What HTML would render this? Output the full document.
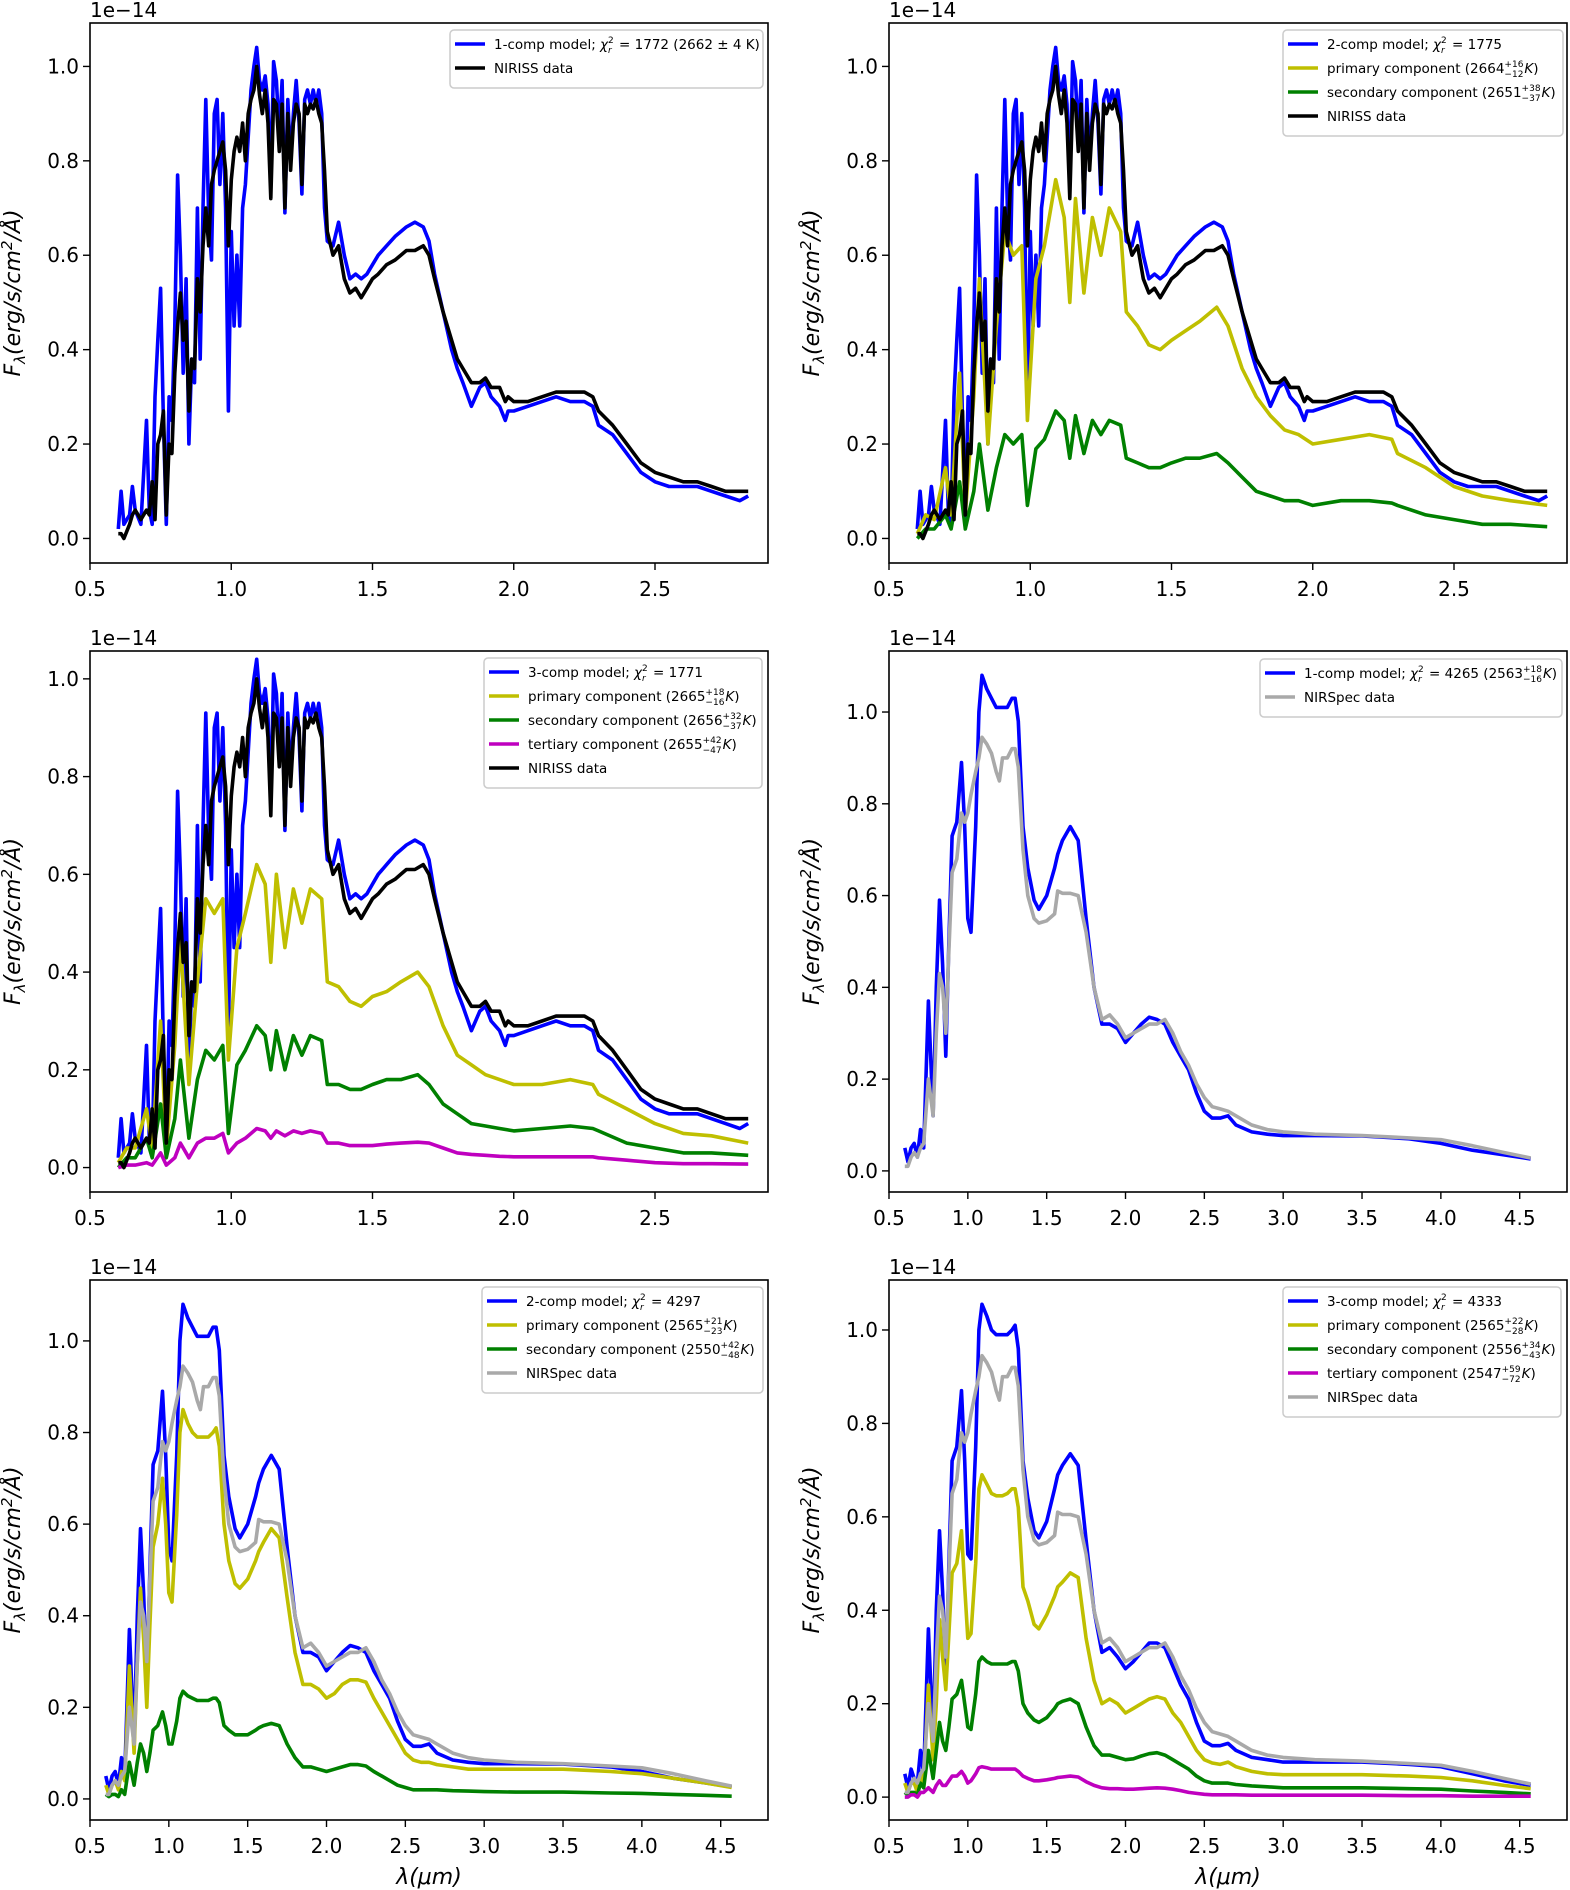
<!DOCTYPE html>
<html><head><meta charset="utf-8"><title>Spectral fits</title>
<style>
html,body{margin:0;padding:0;background:#fff;}
svg{display:block;font-family:"DejaVu Sans","Liberation Sans",sans-serif;}
</style></head>
<body>
<svg id="fig" width="1570" height="1890" viewBox="0 0 1570 1890" xmlns="http://www.w3.org/2000/svg"></svg>
<script>
// ---------- NIRISS wavelength grid ----------
const lamI = [0.60,0.61,0.62,0.64,0.65,0.66,0.68,0.70,0.71,0.72,0.73,0.74,0.75,0.76,0.77,0.78,0.79,
0.80,0.81,0.82,0.83,0.84,0.85,0.86,0.87,0.88,0.89,0.90,0.91,0.92,0.93,0.94,0.95,0.96,0.97,0.98,0.99,
1.00,1.01,1.02,1.03,1.04,1.05,1.06,1.07,1.08,1.09,1.10,1.11,1.12,1.13,1.14,1.15,1.16,1.17,1.18,1.19,
1.20,1.21,1.22,1.23,1.24,1.25,1.26,1.27,1.28,1.29,1.30,1.31,1.32,1.33,1.34,
1.36,1.38,1.40,1.42,1.44,1.46,1.48,1.50,1.52,1.55,1.58,1.60,1.62,1.65,1.68,1.70,1.72,1.75,1.78,1.80,
1.82,1.85,1.88,1.90,1.92,1.95,1.97,1.98,2.00,2.05,2.10,2.15,2.20,2.25,2.28,2.30,2.35,2.40,2.45,2.50,
2.55,2.60,2.65,2.70,2.75,2.80,2.83];
const nirissData = [0.01,0.01,0.00,0.03,0.05,0.06,0.04,0.06,0.05,0.12,0.04,0.20,0.22,0.27,0.05,0.20,0.18,
0.35,0.45,0.52,0.42,0.46,0.27,0.38,0.36,0.55,0.48,0.62,0.70,0.62,0.75,0.78,0.80,0.82,0.84,0.78,0.62,
0.76,0.82,0.85,0.82,0.88,0.80,0.90,0.93,0.95,1.00,0.94,0.90,0.95,0.88,0.72,0.93,0.92,0.82,0.92,0.70,
0.90,0.78,0.88,0.92,0.90,0.75,0.92,0.90,0.92,0.91,0.93,0.90,0.88,0.78,0.65,
0.60,0.62,0.55,0.52,0.53,0.51,0.53,0.55,0.56,0.58,0.59,0.60,0.61,0.61,0.62,0.60,0.55,0.48,0.42,0.38,
0.36,0.33,0.33,0.34,0.32,0.32,0.29,0.30,0.29,0.29,0.30,0.31,0.31,0.31,0.30,0.27,0.24,0.20,0.16,0.14,
0.13,0.12,0.12,0.11,0.10,0.10,0.10];
const nirissModel = [0.02,0.10,0.03,0.05,0.11,0.06,0.03,0.25,0.06,0.03,0.30,0.42,0.53,0.25,0.03,0.30,0.25,
0.45,0.77,0.60,0.35,0.55,0.20,0.38,0.33,0.70,0.38,0.70,0.93,0.68,0.59,0.90,0.93,0.75,0.90,0.70,0.27,
0.65,0.45,0.60,0.45,0.70,0.75,0.85,0.95,1.00,1.04,0.97,0.95,0.98,0.92,0.75,1.01,0.97,0.85,0.97,0.69,
0.93,0.80,0.90,0.97,0.88,0.73,0.93,0.95,0.92,0.95,0.92,0.95,0.90,0.70,0.63,
0.62,0.67,0.60,0.55,0.56,0.55,0.56,0.58,0.60,0.62,0.64,0.65,0.66,0.67,0.66,0.63,0.56,0.48,0.40,0.36,
0.33,0.28,0.32,0.33,0.30,0.28,0.25,0.27,0.27,0.28,0.29,0.30,0.29,0.29,0.28,0.24,0.22,0.18,0.14,0.12,
0.11,0.11,0.11,0.10,0.09,0.08,0.09];
// ---------- NIRISS component grid ----------
const lamC = [0.60,0.63,0.66,0.70,0.72,0.75,0.77,0.80,0.82,0.85,0.88,0.91,0.94,0.97,0.99,1.02,1.05,1.09,1.12,1.14,
1.16,1.19,1.22,1.25,1.28,1.32,1.34,1.38,1.42,1.46,1.50,1.55,1.60,1.66,1.70,1.75,1.80,1.85,1.90,1.95,
2.00,2.10,2.20,2.28,2.30,2.40,2.50,2.60,2.70,2.83];
const p2Primary = [0.01,0.05,0.04,0.15,0.05,0.35,0.05,0.30,0.55,0.20,0.45,0.65,0.60,0.62,0.25,0.55,0.62,0.76,0.68,0.50,
0.72,0.52,0.68,0.60,0.70,0.65,0.48,0.45,0.41,0.40,0.42,0.44,0.46,0.49,0.45,0.36,0.30,0.26,0.23,0.22,
0.20,0.21,0.22,0.21,0.18,0.15,0.11,0.09,0.08,0.07];
const p2Secondary = [0.00,0.02,0.02,0.05,0.02,0.12,0.02,0.10,0.20,0.06,0.15,0.22,0.20,0.22,0.07,0.19,0.21,0.27,0.25,0.17,
0.26,0.18,0.25,0.22,0.25,0.24,0.17,0.16,0.15,0.15,0.16,0.17,0.17,0.18,0.16,0.13,0.10,0.09,0.08,0.08,
0.07,0.08,0.08,0.075,0.07,0.05,0.04,0.03,0.03,0.025];
const p3Primary = [0.01,0.04,0.04,0.12,0.04,0.30,0.04,0.25,0.47,0.17,0.38,0.55,0.52,0.55,0.22,0.45,0.52,0.62,0.58,0.42,
0.60,0.45,0.57,0.50,0.57,0.55,0.38,0.37,0.34,0.33,0.35,0.36,0.38,0.40,0.37,0.29,0.23,0.21,0.19,0.18,
0.17,0.17,0.18,0.17,0.15,0.12,0.09,0.07,0.065,0.05];
const p3Secondary = [0.00,0.02,0.02,0.06,0.02,0.13,0.02,0.10,0.22,0.06,0.18,0.24,0.22,0.25,0.07,0.21,0.24,0.29,0.27,0.20,
0.28,0.20,0.27,0.23,0.27,0.26,0.17,0.17,0.16,0.16,0.17,0.18,0.18,0.19,0.17,0.13,0.11,0.09,0.085,0.08,
0.075,0.08,0.085,0.08,0.075,0.05,0.04,0.03,0.03,0.025];
const p3Tertiary = [0.00,0.005,0.005,0.01,0.005,0.03,0.005,0.02,0.05,0.02,0.05,0.06,0.06,0.07,0.03,0.05,0.06,0.08,0.075,0.06,
0.075,0.065,0.075,0.07,0.075,0.07,0.05,0.05,0.045,0.045,0.045,0.048,0.05,0.052,0.05,0.04,0.03,0.027,0.025,0.023,
0.022,0.022,0.022,0.022,0.02,0.015,0.01,0.008,0.008,0.007];
// ---------- NIRSpec grid ----------
const lamS = [0.60,0.62,0.64,0.66,0.68,0.70,0.72,0.75,0.78,0.80,0.82,0.84,0.86,0.88,0.90,0.93,0.96,0.98,1.00,1.02,
1.05,1.07,1.09,1.12,1.15,1.18,1.20,1.22,1.25,1.28,1.30,1.32,1.35,1.38,1.42,1.45,1.50,1.55,1.57,1.60,
1.65,1.70,1.75,1.80,1.85,1.90,1.95,2.00,2.05,2.10,2.15,2.20,2.25,2.30,2.35,2.40,2.45,2.50,2.55,2.60,
2.65,2.70,2.80,2.90,3.00,3.20,3.50,3.80,4.00,4.20,4.40,4.57];
const nirspecData = [0.01,0.01,0.03,0.04,0.03,0.05,0.06,0.20,0.12,0.30,0.43,0.40,0.30,0.48,0.65,0.68,0.78,0.76,0.78,0.82,
0.87,0.90,0.945,0.93,0.91,0.87,0.85,0.90,0.90,0.92,0.92,0.88,0.70,0.60,0.55,0.54,0.545,0.56,0.61,0.605,
0.605,0.60,0.52,0.40,0.33,0.34,0.32,0.29,0.30,0.31,0.32,0.32,0.33,0.30,0.26,0.23,0.19,0.16,0.14,0.135,
0.13,0.12,0.10,0.09,0.085,0.08,0.077,0.072,0.068,0.055,0.04,0.028];
const nirspecModel = [0.05,0.02,0.05,0.06,0.03,0.09,0.05,0.37,0.12,0.40,0.59,0.45,0.25,0.50,0.73,0.76,0.89,0.75,0.55,0.52,
0.75,1.00,1.08,1.05,1.03,1.01,1.01,1.01,1.01,1.03,1.03,0.98,0.75,0.66,0.59,0.57,0.60,0.66,0.69,0.72,
0.75,0.72,0.55,0.40,0.32,0.32,0.31,0.28,0.30,0.32,0.335,0.33,0.32,0.28,0.25,0.22,0.17,0.13,0.115,0.115,
0.12,0.10,0.085,0.08,0.077,0.077,0.076,0.070,0.060,0.045,0.035,0.026];
const p5Primary = [0.03,0.01,0.03,0.04,0.02,0.06,0.04,0.29,0.10,0.30,0.46,0.35,0.20,0.38,0.55,0.60,0.70,0.60,0.45,0.43,
0.62,0.80,0.85,0.82,0.80,0.79,0.79,0.79,0.79,0.80,0.81,0.77,0.60,0.52,0.47,0.46,0.48,0.52,0.54,0.56,
0.59,0.57,0.44,0.32,0.25,0.25,0.24,0.22,0.23,0.25,0.26,0.26,0.255,0.22,0.19,0.16,0.13,0.10,0.085,0.08,
0.08,0.075,0.07,0.065,0.065,0.065,0.065,0.060,0.055,0.045,0.035,0.025];
const p5Secondary = [0.01,0.005,0.01,0.01,0.005,0.02,0.01,0.08,0.03,0.08,0.12,0.10,0.06,0.10,0.15,0.16,0.19,0.16,0.12,0.12,
0.17,0.22,0.235,0.225,0.22,0.215,0.215,0.215,0.215,0.22,0.22,0.21,0.16,0.15,0.14,0.14,0.14,0.15,0.155,0.16,
0.165,0.16,0.12,0.09,0.07,0.07,0.065,0.06,0.065,0.07,0.075,0.075,0.072,0.06,0.05,0.04,0.03,0.025,0.02,0.02,
0.02,0.02,0.018,0.017,0.016,0.015,0.015,0.013,0.012,0.01,0.008,0.006];
const p6Model = [0.05,0.02,0.06,0.04,0.03,0.10,0.05,0.36,0.12,0.40,0.57,0.44,0.25,0.50,0.72,0.75,0.87,0.72,0.52,0.51,
0.75,1.00,1.055,1.03,1.00,0.99,0.99,0.99,0.99,1.00,1.01,0.96,0.72,0.64,0.57,0.555,0.59,0.66,0.69,0.71,
0.735,0.71,0.55,0.40,0.31,0.32,0.30,0.275,0.29,0.31,0.33,0.33,0.32,0.28,0.24,0.21,0.16,0.12,0.11,0.11,
0.115,0.10,0.085,0.08,0.075,0.075,0.075,0.07,0.065,0.05,0.035,0.025];
const p6Primary = [0.03,0.01,0.03,0.03,0.01,0.05,0.03,0.24,0.08,0.20,0.38,0.30,0.23,0.35,0.48,0.50,0.57,0.45,0.34,0.35,
0.50,0.66,0.69,0.67,0.65,0.645,0.645,0.645,0.65,0.66,0.66,0.62,0.45,0.42,0.37,0.36,0.39,0.43,0.45,0.46,
0.48,0.47,0.34,0.25,0.20,0.21,0.20,0.18,0.19,0.20,0.21,0.215,0.21,0.18,0.16,0.13,0.10,0.08,0.073,0.07,
0.075,0.065,0.055,0.05,0.048,0.048,0.048,0.045,0.042,0.035,0.025,0.018];
const p6Secondary = [0.01,0.005,0.01,0.01,0.005,0.03,0.02,0.10,0.04,0.10,0.16,0.12,0.10,0.15,0.21,0.22,0.25,0.20,0.15,0.145,
0.22,0.29,0.30,0.29,0.285,0.285,0.285,0.285,0.285,0.29,0.29,0.27,0.20,0.18,0.165,0.16,0.17,0.19,0.20,0.205,
0.21,0.20,0.15,0.11,0.09,0.09,0.085,0.08,0.082,0.088,0.093,0.095,0.09,0.08,0.07,0.06,0.045,0.035,0.03,0.03,
0.03,0.027,0.024,0.022,0.02,0.02,0.02,0.018,0.017,0.013,0.01,0.007];
const p6Tertiary = [0.00,0.00,0.005,0.005,0.00,0.01,0.01,0.02,0.01,0.025,0.035,0.025,0.025,0.035,0.045,0.045,0.055,0.045,0.03,0.035,
0.05,0.063,0.065,0.063,0.06,0.06,0.06,0.06,0.06,0.06,0.06,0.055,0.045,0.04,0.035,0.035,0.037,0.04,0.042,0.043,
0.045,0.043,0.033,0.025,0.02,0.018,0.018,0.017,0.017,0.018,0.019,0.02,0.019,0.017,0.014,0.01,0.008,0.006,0.005,0.005,
0.005,0.005,0.004,0.004,0.004,0.004,0.004,0.003,0.003,0.002,0.002,0.002];
// ---------- ticks ----------
const yTicks = [0.0,0.2,0.4,0.6,0.8,1.0];
const yTickLabels = ["0.0","0.2","0.4","0.6","0.8","1.0"];
const xTicksShort = [0.5,1.0,1.5,2.0,2.5];
const xTicksLong = [0.5,1.0,1.5,2.0,2.5,3.0,3.5,4.0,4.5];

const C = {blue:"#0000ff", black:"#000000", yel:"#bfbf00", grn:"#008000", mag:"#bf00bf", gry:"#a9a9a9"};
const NS = "http://www.w3.org/2000/svg";
const svg = document.getElementById("fig");
function mk(tag, attrs, parent){ const e=document.createElementNS(NS,tag); for(const k in attrs) e.setAttribute(k,attrs[k]); (parent||svg).appendChild(e); return e; }
const S = "\u00a0";

const panels = [
 {id:"p1", x:90, y:23, h:540, xl:[0.5,2.9], yl:[-0.052,1.092], xt:xTicksShort, xlabel:false,
  series:[[lamI,nirissModel,C.blue,"model-1comp"],[lamI,nirissData,C.black,"niriss-data"]],
  leg:{x:450,y:30,w:313, items:[[C.blue,[["1-comp model;"+S],["χ",'i'],["chi"],[S+"="+S+"1772 (2662 ± 4 K)"]]],[C.black,[["NIRISS data"]]]]}},
 {id:"p2", x:889, y:23, h:540, xl:[0.5,2.9], yl:[-0.052,1.092], xt:xTicksShort, xlabel:false,
  series:[[lamI,nirissModel,C.blue,"model-2comp"],[lamC,p2Primary,C.yel,"primary-component"],[lamC,p2Secondary,C.grn,"secondary-component"],[lamI,nirissData,C.black,"niriss-data"]],
  leg:{x:1283,y:30,w:280, items:[[C.blue,[["2-comp model;"+S],["χ",'i'],["chi"],[S+"="+S+"1775"]]],[C.yel,[["primary component (2664"],["+16","−12","pm"],["K",'i'],[")"]]],[C.grn,[["secondary component (2651"],["+38","−37","pm"],["K",'i'],[")"]]],[C.black,[["NIRISS data"]]]]}},
 {id:"p3", x:90, y:651, h:541, xl:[0.5,2.9], yl:[-0.05,1.057], xt:xTicksShort, xlabel:false,
  series:[[lamI,nirissModel,C.blue,"model-3comp"],[lamC,p3Primary,C.yel,"primary-component"],[lamC,p3Secondary,C.grn,"secondary-component"],[lamC,p3Tertiary,C.mag,"tertiary-component"],[lamI,nirissData,C.black,"niriss-data"]],
  leg:{x:484,y:658,w:278, items:[[C.blue,[["3-comp model;"+S],["χ",'i'],["chi"],[S+"="+S+"1771"]]],[C.yel,[["primary component (2665"],["+18","−16","pm"],["K",'i'],[")"]]],[C.grn,[["secondary component (2656"],["+32","−37","pm"],["K",'i'],[")"]]],[C.mag,[["tertiary component (2655"],["+42","−47","pm"],["K",'i'],[")"]]],[C.black,[["NIRISS data"]]]]}},
 {id:"p4", x:889, y:651, h:541, xl:[0.5,4.8], yl:[-0.046,1.133], xt:xTicksLong, xlabel:false,
  series:[[lamS,nirspecModel,C.blue,"model-1comp"],[lamS,nirspecData,C.gry,"nirspec-data"]],
  leg:{x:1260,y:659,w:302, items:[[C.blue,[["1-comp model;"+S],["χ",'i'],["chi"],[S+"="+S+"4265 (2563"],["+18","−16","pm"],["K",'i'],[")"]]],[C.gry,[["NIRSpec data"]]]]}},
 {id:"p5", x:90, y:1280, h:540, xl:[0.5,4.8], yl:[-0.046,1.133], xt:xTicksLong, xlabel:true,
  series:[[lamS,nirspecModel,C.blue,"model-2comp"],[lamS,p5Primary,C.yel,"primary-component"],[lamS,p5Secondary,C.grn,"secondary-component"],[lamS,nirspecData,C.gry,"nirspec-data"]],
  leg:{x:482,y:1287,w:281, items:[[C.blue,[["2-comp model;"+S],["χ",'i'],["chi"],[S+"="+S+"4297"]]],[C.yel,[["primary component (2565"],["+21","−23","pm"],["K",'i'],[")"]]],[C.grn,[["secondary component (2550"],["+42","−48","pm"],["K",'i'],[")"]]],[C.gry,[["NIRSpec data"]]]]}},
 {id:"p6", x:889, y:1280, h:540, xl:[0.5,4.8], yl:[-0.049,1.107], xt:xTicksLong, xlabel:true,
  series:[[lamS,p6Model,C.blue,"model-3comp"],[lamS,p6Primary,C.yel,"primary-component"],[lamS,p6Secondary,C.grn,"secondary-component"],[lamS,p6Tertiary,C.mag,"tertiary-component"],[lamS,nirspecData,C.gry,"nirspec-data"]],
  leg:{x:1283,y:1287,w:278, items:[[C.blue,[["3-comp model;"+S],["χ",'i'],["chi"],[S+"="+S+"4333"]]],[C.yel,[["primary component (2565"],["+22","−28","pm"],["K",'i'],[")"]]],[C.grn,[["secondary component (2556"],["+34","−43","pm"],["K",'i'],[")"]]],[C.mag,[["tertiary component (2547"],["+59","−72","pm"],["K",'i'],[")"]]],[C.gry,[["NIRSpec data"]]]]}}
];
const W = 678;

panels.forEach(p=>{
  const g = mk("g",{});
  
  
  const sx = v => p.x + (v-p.xl[0])/(p.xl[1]-p.xl[0])*W;
  const sy = v => p.y + p.h - (v-p.yl[0])/(p.yl[1]-p.yl[0])*p.h;
  const clipId = "clip-"+p.id;
  const cp = mk("clipPath",{id:clipId},g); mk("rect",{x:p.x,y:p.y,width:W,height:p.h},cp);
  const sg = mk("g",{"clip-path":"url(#"+clipId+")"},g);
  p.series.forEach(s=>{
    const xs=s[0], ys=s[1], n=Math.min(xs.length,ys.length);
    let d="";
    for(let i=0;i<n;i++) d += (i?"L":"M")+sx(xs[i]).toFixed(1)+","+sy(ys[i]).toFixed(1);
    const path = mk("path",{d:d,fill:"none",stroke:s[2],"stroke-width":3.6,"stroke-linejoin":"round"},sg);
    
    
  });
  const fr = mk("rect",{x:p.x,y:p.y,width:W,height:p.h,fill:"none",stroke:"#000","stroke-width":1.6},g);
  
  
  yTicks.forEach((t,i)=>{
    const y=sy(t);
    mk("line",{x1:p.x-7,x2:p.x,y1:y,y2:y,stroke:"#000","stroke-width":1.4},g);
    const tx = mk("text",{x:p.x-11,y:y+7,"text-anchor":"end","font-size":20},g);
    tx.textContent = yTickLabels[i];
    
    
  });
  p.xt.forEach(t=>{
    const x=sx(t);
    mk("line",{x1:x,x2:x,y1:p.y+p.h,y2:p.y+p.h+7,stroke:"#000","stroke-width":1.4},g);
    const tx = mk("text",{x:x,y:p.y+p.h+33,"text-anchor":"middle","font-size":20},g);
    tx.textContent = t.toFixed(1);
    
    
  });
  const off = mk("text",{x:p.x,y:p.y-6,"font-size":20},g);
  off.textContent = "1e\u221214";
  
  
  const cy = p.y+p.h/2, cx = p.x-70;
  const yl = mk("text",{x:cx,y:cy,"text-anchor":"middle","font-size":22,"font-style":"italic",transform:"rotate(-90 "+cx+" "+cy+")"},g);
  yl.innerHTML = 'F<tspan font-size="15" dy="5">λ</tspan><tspan dy="-5">(erg/s/cm</tspan><tspan font-size="15" dy="-8">2</tspan><tspan dy="8">/Å)</tspan>';
  
  
  if(p.xlabel){
    const xlb = mk("text",{x:p.x+W/2,y:1884,"text-anchor":"middle","font-size":22,"font-style":"italic"},g);
    xlb.textContent = "λ(μm)";
    
    
  }
  const L = p.leg, n = L.items.length;
  const lg = mk("g",{},g);
  
  
  mk("rect",{x:L.x,y:L.y,width:L.w,height:10+n*24,rx:4,fill:"#fff","fill-opacity":0.8,stroke:"#cccccc","stroke-width":1.5},lg);
  L.items.forEach((it,i)=>{
    const ry = L.y+14+i*24;
    const ent = mk("g",{},lg);
    
    
    mk("line",{x1:L.x+5,x2:L.x+35,y1:ry,y2:ry,stroke:it[0],"stroke-width":3.5},ent);
    let cx2 = L.x+44;
    it[1].forEach(part=>{
      if(part[1]==='i'){
        const t=mk("text",{x:cx2,y:ry+5,"font-size":13.5,"font-style":"italic"},ent); t.textContent=part[0]; cx2+=t.getComputedTextLength();
      } else if(part[0]==="chi"){
        const a=mk("text",{x:cx2,y:ry-1,"font-size":9},ent); a.textContent="2";
        const b=mk("text",{x:cx2,y:ry+9,"font-size":9,"font-style":"italic"},ent); b.textContent="r";
        cx2+=Math.max(a.getComputedTextLength(),b.getComputedTextLength())+1;
      } else if(part[2]==="pm"){
        const a=mk("text",{x:cx2,y:ry-1,"font-size":9},ent); a.textContent=part[0];
        const b=mk("text",{x:cx2,y:ry+9,"font-size":9},ent); b.textContent=part[1];
        cx2+=Math.max(a.getComputedTextLength(),b.getComputedTextLength())+1;
      } else {
        const t=mk("text",{x:cx2,y:ry+5,"font-size":13.5},ent); t.textContent=part[0]; cx2+=t.getComputedTextLength();
      }
    });
  });
});
</script>
</body></html>
